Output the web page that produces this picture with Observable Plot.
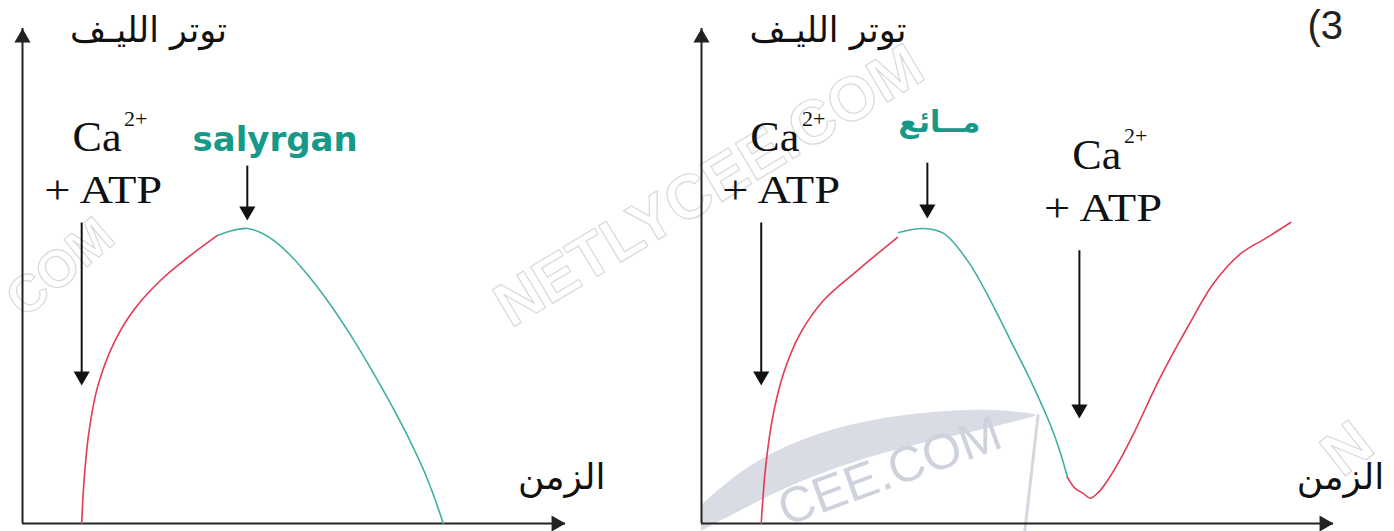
<!DOCTYPE html>
<html>
<head>
<meta charset="utf-8">
<script src="https://cdn.jsdelivr.net/npm/d3@7"></script>
<script src="https://cdn.jsdelivr.net/npm/@observablehq/plot@0.6"></script>
<style>
  html, body { margin: 0; padding: 0; background: #fff; }
  #fig { position: relative; width: 1394px; height: 531px; display: flex; overflow: hidden; }
  #fig svg { overflow: visible; display: block; }
</style>
</head>
<body>
<div id="fig"></div>
<script>
// ---- Fibre tension over time (arbitrary units) ----
// Experiment 1: Ca2+ + ATP, then salyrgan
const riseA_t = [1.09, 1.13, 1.22, 1.38, 1.68, 2.04, 2.54, 3.04, 3.59];
const riseA_v = [0, 8.1, 18.2, 27.5, 36.4, 43.0, 49.1, 53.7, 58.2];
const dropA_t = [3.59, 3.87, 4.14, 4.42, 4.66, 4.94, 5.30, 5.67, 6.04, 6.41, 6.78, 7.15, 7.46, 7.75];
const dropA_v = [58.2, 59.2, 59.6, 58.6, 56.9, 54.1, 49.6, 44.2, 38.1, 31.4, 24.2, 16.4, 8.9, 0];

// Experiment 2: Ca2+ + ATP, then inhibitor, then Ca2+ + ATP again
const riseB_t = [1.10, 1.18, 1.31, 1.51, 1.82, 2.25, 2.87, 3.61];
const riseB_v = [0, 11.3, 21.4, 30.3, 38.4, 45.1, 51.1, 57.8];
const dropB_t = [3.63, 4.09, 4.46, 4.90, 5.32, 5.69, 6.06, 6.43, 6.61, 6.74];
const dropB_v = [58.8, 59.6, 58.6, 53.1, 45.1, 37.0, 28.9, 19.8, 14.3, 9.3];
const rise2B_t = [6.74, 6.88, 7.03, 7.16, 7.31, 7.48, 7.72, 7.96, 8.45, 8.95, 9.43, 9.93, 10.42, 10.85];
const rise2B_v = [9.3, 7.1, 6.1, 5.1, 6.3, 8.7, 13.1, 18.2, 29.5, 39.6, 48.5, 54.5, 57.8, 60.8];

// Moments when substances are added
const eventsA_t = [1.09, 4.14];
const eventsB_t = [1.10, 4.16, 6.96];

// Text
const yLabel = "توتر الليـف";
const xLabel = "الزمن";
const caText = "Ca";
const chargeText = "2+";
const atpText = "+ ATP";
const drugA = "salyrgan";
const drugB = "مــائع";
const partLabel = "(3";
const siteMark = "NETLYCEE.COM";

// ---- shared look ----
const RED = "#e23a55", TEAL = "#3fb0a0", TEAL_TEXT = "#17998a", INK = "#111";
const SERIF = "'Liberation Serif', 'Times New Roman', serif";
const ARABIC = "'DejaVu Sans', sans-serif";
const SANS = "'Liberation Sans', Arial, sans-serif";
const Y_MAX = 100;

const pts = (ts, vs) => ts.map((t, i) => ({t, v: vs[i]}));

function note(text, t, v, o = {}) {
  return Plot.text([text], {x: () => t, y: () => v, text: d => d, lineAnchor: "bottom", fill: INK, ...o});
}

// arrows pointing down onto the curve: [time, top, tip]
function eventArrows(list) {
  return [
    Plot.link(list, {x1: "t", x2: "t", y1: "top", y2: d => d.tip + 1.5, stroke: INK, strokeWidth: 2}),
    Plot.dot(list, {x: "t", y: "tip", symbol: "triangle", rotate: 180, r: 6, dy: -9.3, fill: INK, stroke: "none"})
  ];
}

function axes(xMax) {
  return [
    Plot.ruleY([0], {x1: 0, x2: xMax, stroke: "#222", strokeWidth: 2}),
    Plot.ruleX([0], {y1: 0, y2: Y_MAX, stroke: "#222", strokeWidth: 2}),
    Plot.dot([{t: xMax, v: 0}], {x: "t", y: "v", symbol: "triangle", rotate: 90, r: 6, dx: -9.3, fill: "#222", stroke: "none"}),
    Plot.dot([{t: 0, v: Y_MAX}], {x: "t", y: "v", symbol: "triangle", rotate: 0, r: 6, dy: 9.3, fill: "#222", stroke: "none"})
  ];
}

function caAtp(t, v) {
  // "Ca" with superscript charge, "+ ATP" on the line below
  return [
    note(caText, t, v, {fontFamily: SERIF, fontSize: 42, textAnchor: "start"}),
    note(chargeText, t + 0.95, v + 5.2, {fontFamily: SERIF, fontSize: 22, textAnchor: "start"}),
    note(atpText, t - 0.52, v - 10.5, {fontFamily: SERIF, fontSize: 40, textAnchor: "start"})
  ];
}

const watermark = {fill: "none", stroke: "#d9d9d9", strokeWidth: 1.2, fontFamily: SANS, fontWeight: "bold", fontSize: 62};

// ---- Panel 1 ----
const X_MAX_A = 10;
const panelA = Plot.plot({
  width: 680, height: 531,
  marginLeft: 22, marginRight: 115, marginTop: 28, marginBottom: 8,
  x: {domain: [0, X_MAX_A], axis: null},
  y: {domain: [0, Y_MAX], axis: null},
  style: {background: "transparent", overflow: "visible"},
  marks: [
    note("COM", 1.75, 57, {...watermark, textAnchor: "end", rotate: -40, fontSize: 52}),
    note(siteMark, 8.99, 39.4, {...watermark, textAnchor: "start", rotate: -31}),
    axes(X_MAX_A),
    Plot.line(pts(riseA_t, riseA_v), {x: "t", y: "v", stroke: RED, strokeWidth: 1.6, curve: "catmull-rom"}),
    Plot.line(pts(dropA_t, dropA_v), {x: "t", y: "v", stroke: TEAL, strokeWidth: 1.6, curve: "catmull-rom"}),
    eventArrows([
      {t: eventsA_t[0], top: 60.8, tip: 27.9},
      {t: eventsA_t[1], top: 72.3, tip: 61.2}
    ]),
    note(yLabel, 2.32, 97.2, {fontFamily: ARABIC, fontSize: 35}),
    note(xLabel, 9.93, 7.0, {fontFamily: ARABIC, fontSize: 36}),
    caAtp(0.92, 75.2),
    note(drugA, 3.13, 75.2, {fontFamily: "'DejaVu Sans', sans-serif", fontWeight: "bold", fontSize: 34, fill: TEAL_TEXT, textAnchor: "start"})
  ]
});

// ---- Panel 2 ----
const X_MAX_B = 11.64;
const swoosh = [
  {t: 0.0, lo: -1.6, hi: 3.6}, {t: 0.72, lo: 2.6, hi: 10.7}, {t: 1.64, lo: 7.7, hi: 16.2},
  {t: 2.74, lo: 12.3, hi: 20.2}, {t: 4.03, lo: 16.2, hi: 22.4}, {t: 5.32, lo: 19.2, hi: 23.2},
  {t: 6.15, lo: 21.6, hi: 22.0}
];
const panelB = Plot.plot({
  width: 714, height: 531,
  marginLeft: 21, marginRight: 61, marginTop: 28, marginBottom: 8,
  x: {domain: [0, X_MAX_B], axis: null},
  y: {domain: [0, Y_MAX], axis: null},
  style: {background: "transparent", overflow: "visible"},
  marks: [
    Plot.areaY(swoosh, {x: "t", y1: "lo", y2: "hi", curve: "basis", fill: "#aab2c4", fillOpacity: 0.45}),
    Plot.link([{t1: 6.2, v1: 22.0, t2: 5.95, v2: -2}], {x1: "t1", y1: "v1", x2: "t2", y2: "v2", stroke: "#d3d7e0", strokeWidth: 3}),
    note("CEE.COM", 1.55, -0.6, {textAnchor: "start", rotate: -20, fill: "#cdd2dc", fontFamily: SANS, fontSize: 50}),
    note("N", 11.8, 9.1, {...watermark, textAnchor: "start", rotate: -38}),
    axes(X_MAX_B),
    Plot.line(pts(riseB_t, riseB_v), {x: "t", y: "v", stroke: RED, strokeWidth: 1.6, curve: "catmull-rom"}),
    Plot.line(pts(dropB_t, dropB_v), {x: "t", y: "v", stroke: TEAL, strokeWidth: 1.6, curve: "catmull-rom"}),
    Plot.line(pts(rise2B_t, rise2B_v), {x: "t", y: "v", stroke: RED, strokeWidth: 1.6, curve: "catmull-rom"}),
    eventArrows([
      {t: eventsB_t[0], top: 60.8, tip: 27.9},
      {t: eventsB_t[1], top: 72.9, tip: 61.6},
      {t: eventsB_t[2], top: 55.2, tip: 21.2}
    ]),
    note(yLabel, 2.33, 97.2, {fontFamily: ARABIC, fontSize: 35}),
    note(xLabel, 11.77, 7.0, {fontFamily: ARABIC, fontSize: 36}),
    caAtp(0.90, 75.2),
    caAtp(6.83, 71.7),
    note(drugB, 4.38, 79.0, {fontFamily: ARABIC, fontWeight: "bold", fontSize: 30, fill: TEAL_TEXT}),
    note(partLabel, 11.16, 97.8, {fontFamily: SANS, fontSize: 40, fill: "#222", textAnchor: "start"})
  ]
});

// Times-style labels are set a little wider than the font's natural advance
for (const svg of [panelA, panelB]) {
  for (const el of svg.querySelectorAll("text")) {
    if (el.textContent === atpText) { el.setAttribute("textLength", 118); el.setAttribute("lengthAdjust", "spacingAndGlyphs"); }
    if (el.textContent === caText) { el.setAttribute("textLength", 49); el.setAttribute("lengthAdjust", "spacingAndGlyphs"); }
  }
}

const fig = document.getElementById("fig");
fig.append(panelA, panelB);
</script>
</body>
</html>
